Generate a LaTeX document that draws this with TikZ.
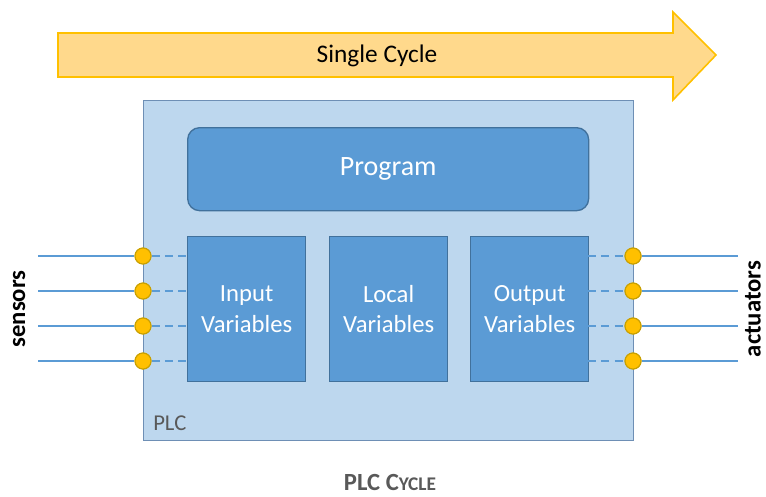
\documentclass[tikz,border=0pt]{standalone}
\usepackage{fontspec}
\setmainfont{Carlito}
\begin{document}
\begin{tikzpicture}[x=0.75pt,y=-0.75pt,
  plc/.style={draw=plcborder,fill=plcfill,line width=1pt},
  varbox/.style={draw=varborder,fill=varfill,line width=1pt,minimum width=118*0.75pt,minimum height=145*0.75pt,anchor=north west,inner sep=0pt,text=white,font=\fontsize{18.5}{23}\selectfont,align=center},
  wire/.style={draw=wirec,line width=1.6pt},
  dwire/.style={draw=wirec,line width=1.6pt,dash pattern=on 6pt off 4pt},
  pin/.style={circle,draw=pinborder,fill=pinfill,line width=0.8pt,minimum size=12pt,inner sep=0pt},
  side/.style={rotate=90,inner sep=1pt,font=\bfseries\fontsize{18.5}{22}\selectfont,text=black}]
\definecolor{plcfill}{HTML}{BDD7EE}
\definecolor{plcborder}{HTML}{6E8FB5}
\definecolor{varfill}{HTML}{5B9BD5}
\definecolor{varborder}{HTML}{41719C}
\definecolor{wirec}{HTML}{5B9BD5}
\definecolor{pinfill}{HTML}{FFC000}
\definecolor{pinborder}{HTML}{C9A000}
\definecolor{arrfill}{HTML}{FFD98C}
\definecolor{arrborder}{HTML}{FFC000}
\definecolor{txtgray}{HTML}{595959}
\useasboundingbox (0,0) rectangle (766,496);
% arrow
\draw[draw=arrborder,fill=arrfill,line width=1.2pt,line join=miter]
  (58,33) -- (673,33) -- (673,12) -- (716,55) -- (673,100) -- (673,77) -- (58,77) -- cycle;
\node[font=\fontsize{19}{23}\selectfont,text=black] (cyc) at (377,56) {Single Cycle};
% PLC box
\node[plc,minimum width=490*0.75pt,minimum height=340*0.75pt,anchor=north west,inner sep=0pt] (plcbox) at (143,100) {};
\node[text=txtgray,anchor=west,inner sep=0pt,font=\fontsize{17}{20}\selectfont] (plclbl) at (153,423) {PLC};
% program
\node[draw=varborder,fill=varfill,line width=1pt,rounded corners=9pt,minimum width=401*0.75pt,minimum height=83*0.75pt,anchor=north west,inner sep=0pt,text=white,font=\fontsize{21}{25}\selectfont] (prog) at (187,127) {Program};
% variables
\node[varbox] (inv) at (187,236) {Input\\Variables};
\node[varbox] (locv) at (329,236) {Local\\Variables};
\node[varbox] (outv) at (470,236) {Output\\Variables};
% wires
\foreach \i/\y in {1/256,2/291,3/326,4/361}{
  \coordinate (sl\i) at (38,\y);
  \coordinate (si\i) at (187,\y);
  \node[pin] (sp\i) at (143,\y) {};
  \draw[wire] (sl\i) -- (sp\i.west);
  \draw[dwire] (sp\i.east) -- (si\i);
  \coordinate (ar\i) at (738,\y);
  \coordinate (ao\i) at (588,\y);
  \node[pin] (ap\i) at (633,\y) {};
  \draw[wire] (ap\i.east) -- (ar\i);
  \draw[dwire] (ao\i) -- (ap\i.west);
}
\foreach \i in {1,...,4}{\node[pin] at (sp\i) {}; \node[pin] at (ap\i) {};}
\node[side] (sens) at (19,309) {sensors};
\node[side] (act) at (753,309) {actuators};
% caption
\node[text=txtgray,inner sep=0pt,font=\bfseries\fontsize{18.5}{22}\selectfont] (cap) at (390,482) {PLC C{\fontsize{14.5}{17}\selectfont YCLE}};
\end{tikzpicture}
\end{document}
